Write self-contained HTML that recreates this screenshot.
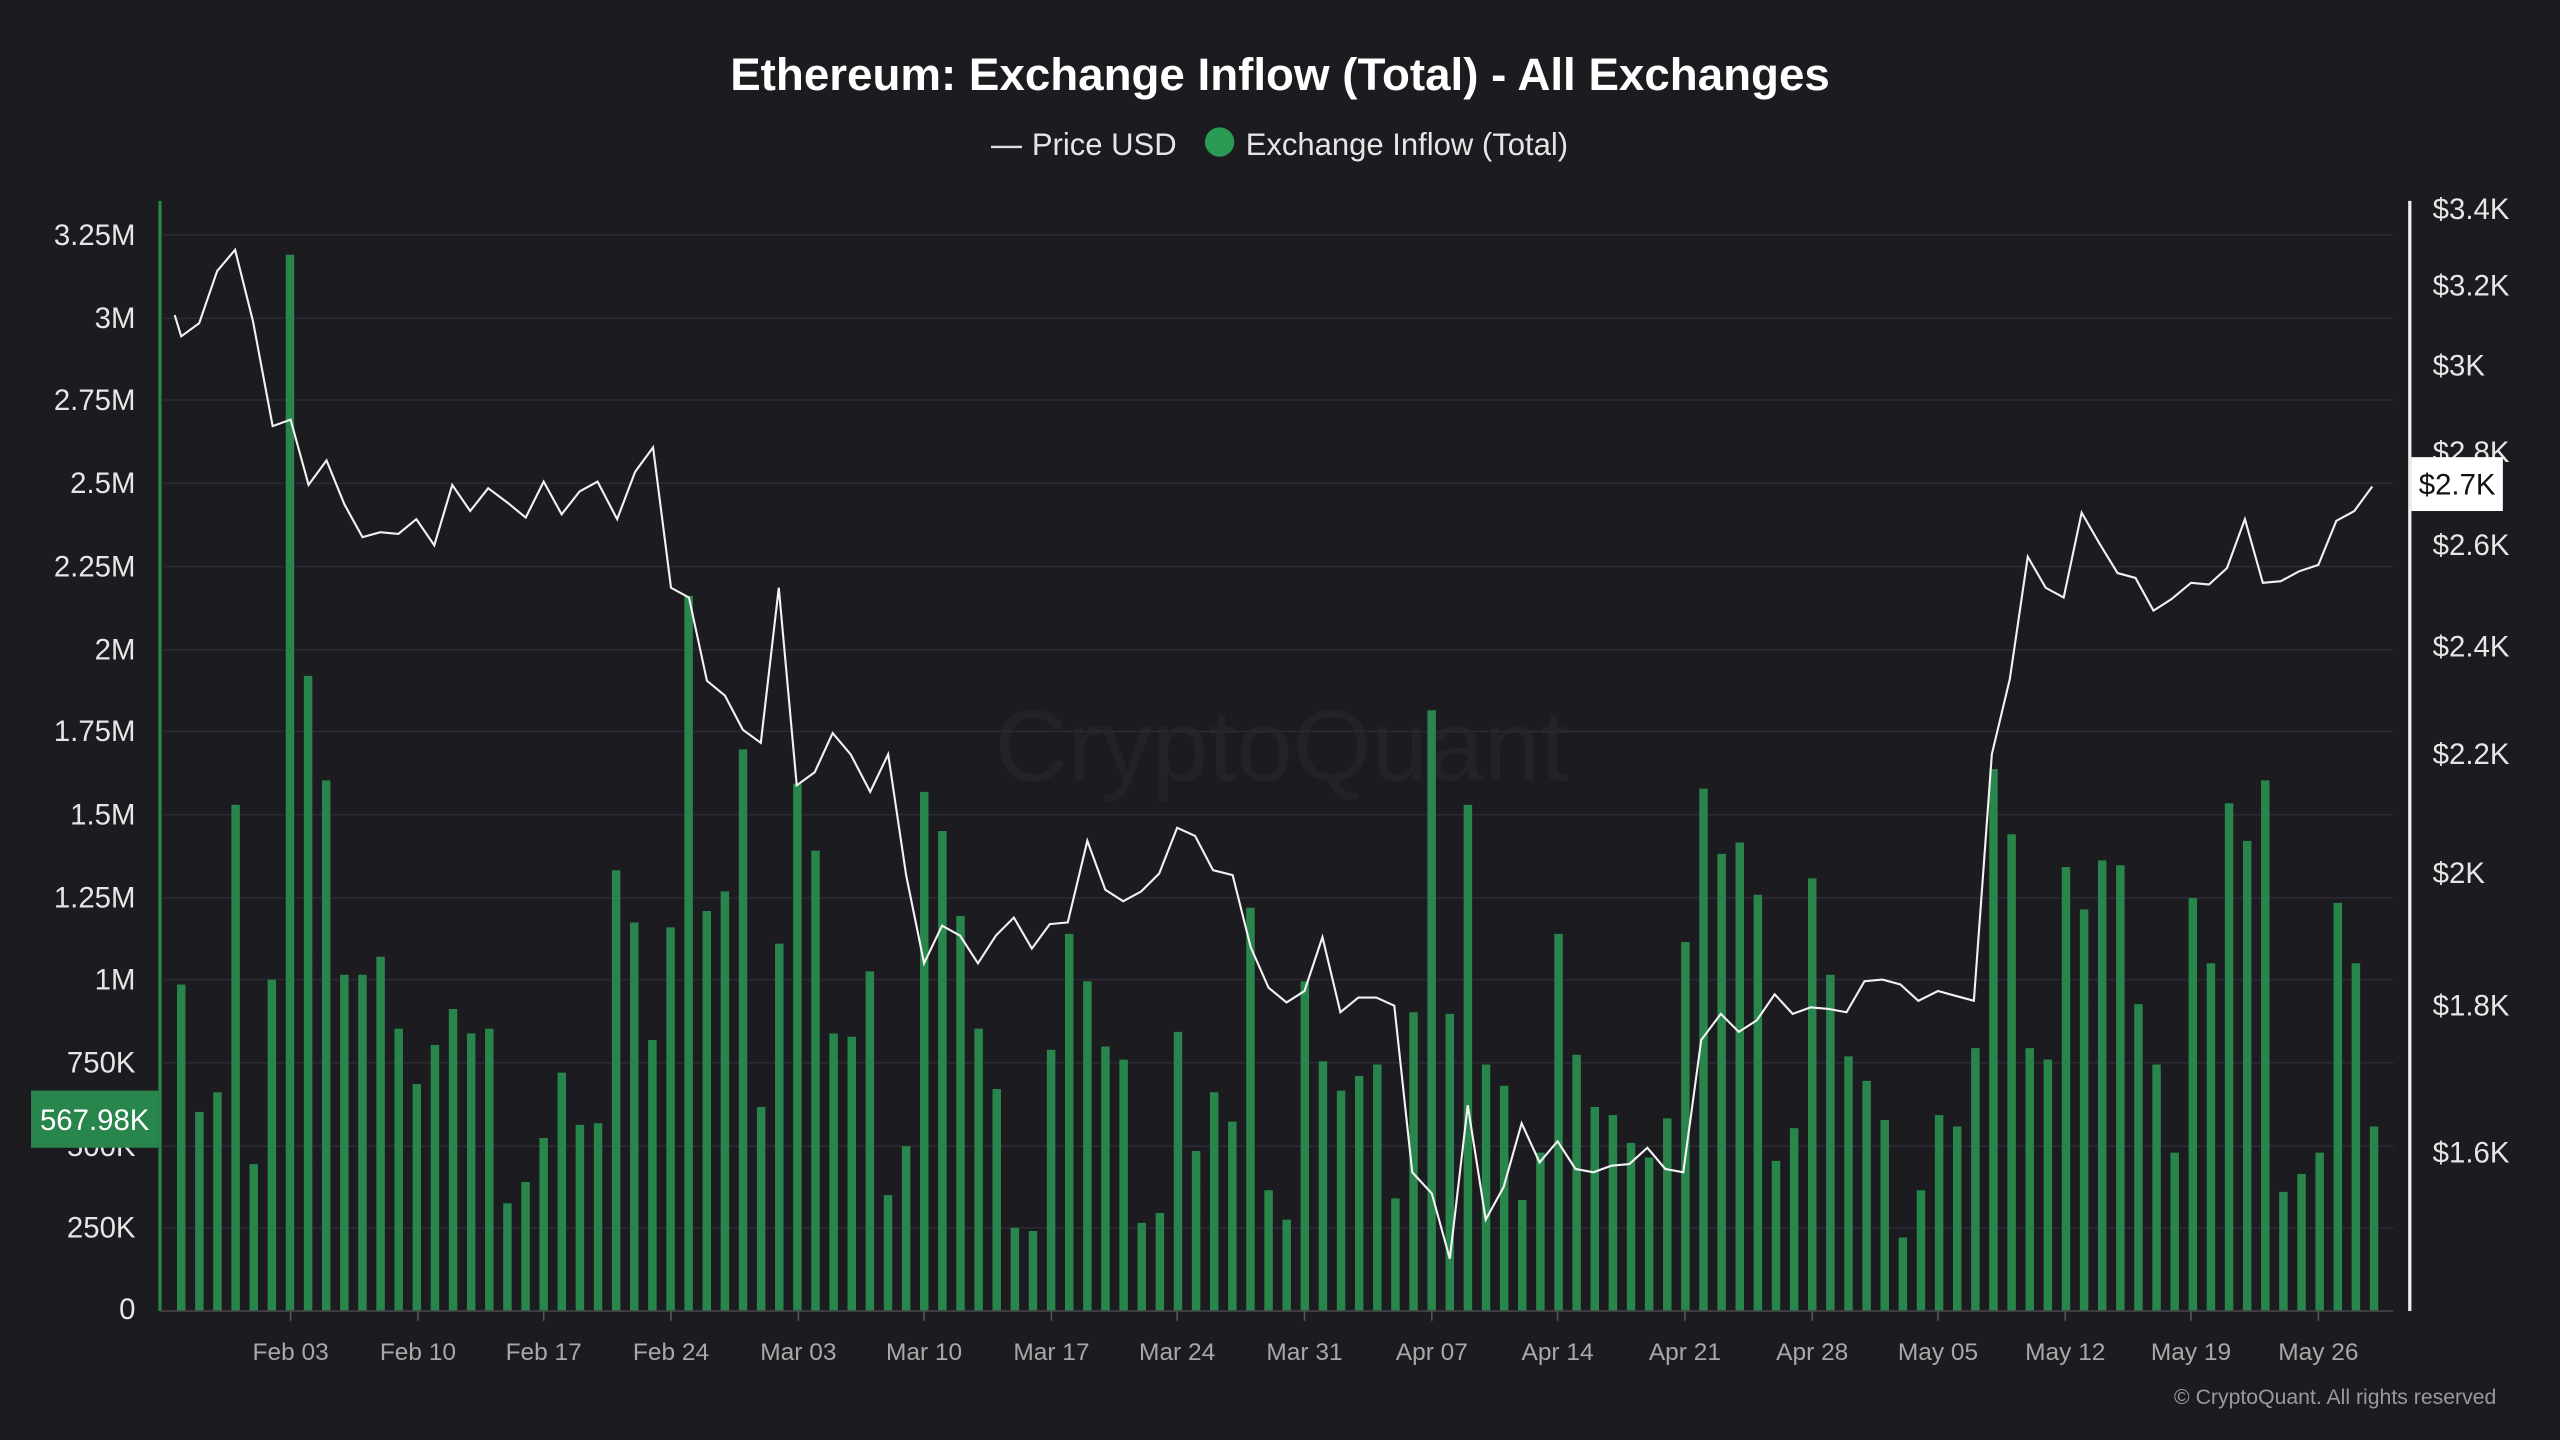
<!DOCTYPE html>
<html><head><meta charset="utf-8"><style>
html,body{margin:0;padding:0;background:#1b1b20;}
svg{display:block;}
text{font-family:"Liberation Sans",sans-serif;}
</style></head><body>
<svg width="2560" height="1440" viewBox="0 0 1568 882" xmlns="http://www.w3.org/2000/svg">
<rect width="1568" height="882" fill="#1b1b20"/>
<text x="784" y="55" text-anchor="middle" fill="#fff" font-size="28" font-weight="bold">Ethereum: Exchange Inflow (Total) - All Exchanges</text>
<line x1="607" y1="90" x2="626" y2="90" stroke="#ddd" stroke-width="1.5"/>
<text x="632" y="95" fill="#e6e6e6" font-size="19">Price USD</text>
<circle cx="747" cy="87" r="9" fill="#2a9a55"/>
<text x="763" y="95" fill="#e6e6e6" font-size="19">Exchange Inflow (Total)</text>
<text x="785" y="478" text-anchor="middle" fill="#222228" font-size="62">CryptoQuant</text>
<g stroke="#2a2a30" stroke-width="1">
<line x1="100" y1="144" x2="1466" y2="144"/><line x1="100" y1="195" x2="1466" y2="195"/><line x1="100" y1="245" x2="1466" y2="245"/><line x1="100" y1="296" x2="1466" y2="296"/><line x1="100" y1="347" x2="1466" y2="347"/><line x1="100" y1="398" x2="1466" y2="398"/><line x1="100" y1="448" x2="1466" y2="448"/><line x1="100" y1="499" x2="1466" y2="499"/><line x1="100" y1="550" x2="1466" y2="550"/><line x1="100" y1="600" x2="1466" y2="600"/><line x1="100" y1="651" x2="1466" y2="651"/><line x1="100" y1="702" x2="1466" y2="702"/><line x1="100" y1="752" x2="1466" y2="752"/>
</g>
<g fill="#e6e6e6" font-size="18" text-anchor="end">
<text x="83" y="150">3.25M</text><text x="83" y="201">3M</text><text x="83" y="251">2.75M</text><text x="83" y="302">2.5M</text><text x="83" y="353">2.25M</text><text x="83" y="404">2M</text><text x="83" y="454">1.75M</text><text x="83" y="505">1.5M</text><text x="83" y="556">1.25M</text><text x="83" y="606">1M</text><text x="83" y="657">750K</text><text x="83" y="708">500K</text><text x="83" y="758">250K</text><text x="83" y="808">0</text>
</g>
<g fill="#e6e6e6" font-size="18">
<text x="1490" y="134">$3.4K</text><text x="1490" y="181">$3.2K</text><text x="1490" y="230">$3K</text><text x="1490" y="283">$2.8K</text><text x="1490" y="340">$2.6K</text><text x="1490" y="402">$2.4K</text><text x="1490" y="468">$2.2K</text><text x="1490" y="541">$2K</text><text x="1490" y="622">$1.8K</text><text x="1490" y="712">$1.6K</text>
</g>
<path fill="#28854c" d="M108.4 803V603h5.2V803zM119.5 803V681h5.2V803zM130.6 803V669h5.2V803zM141.7 803V493h5.2V803zM152.8 803V713h5.2V803zM163.9 803V600h5.2V803zM175 803V156h5.2V803zM186.1 803V414h5.2V803zM197.2 803V478h5.2V803zM208.3 803V597h5.2V803zM219.4 803V597h5.2V803zM230.5 803V586h5.2V803zM241.6 803V630h5.2V803zM252.7 803V664h5.2V803zM263.8 803V640h5.2V803zM274.9 803V618h5.2V803zM286 803V633h5.2V803zM297.1 803V630h5.2V803zM308.2 803V737h5.2V803zM319.3 803V724h5.2V803zM330.4 803V697h5.2V803zM341.5 803V657h5.2V803zM352.6 803V689h5.2V803zM363.7 803V688h5.2V803zM374.8 803V533h5.2V803zM385.9 803V565h5.2V803zM397 803V637h5.2V803zM408.1 803V568h5.2V803zM419.2 803V365h5.2V803zM430.3 803V558h5.2V803zM441.4 803V546h5.2V803zM452.5 803V459h5.2V803zM463.6 803V678h5.2V803zM474.7 803V578h5.2V803zM485.8 803V480h5.2V803zM496.9 803V521h5.2V803zM508 803V633h5.2V803zM519.1 803V635h5.2V803zM530.2 803V595h5.2V803zM541.3 803V732h5.2V803zM552.4 803V702h5.2V803zM563.5 803V485h5.2V803zM574.6 803V509h5.2V803zM585.7 803V561h5.2V803zM596.8 803V630h5.2V803zM607.9 803V667h5.2V803zM619 803V752h5.2V803zM630.1 803V754h5.2V803zM641.2 803V643h5.2V803zM652.3 803V572h5.2V803zM663.4 803V601h5.2V803zM674.5 803V641h5.2V803zM685.6 803V649h5.2V803zM696.7 803V749h5.2V803zM707.8 803V743h5.2V803zM718.9 803V632h5.2V803zM730 803V705h5.2V803zM741.1 803V669h5.2V803zM752.2 803V687h5.2V803zM763.3 803V556h5.2V803zM774.4 803V729h5.2V803zM785.5 803V747h5.2V803zM796.6 803V601h5.2V803zM807.7 803V650h5.2V803zM818.8 803V668h5.2V803zM829.9 803V659h5.2V803zM841 803V652h5.2V803zM852.1 803V734h5.2V803zM863.2 803V620h5.2V803zM874.3 803V435h5.2V803zM885.4 803V621h5.2V803zM896.5 803V493h5.2V803zM907.6 803V652h5.2V803zM918.7 803V665h5.2V803zM929.8 803V735h5.2V803zM940.9 803V706h5.2V803zM952 803V572h5.2V803zM963.1 803V646h5.2V803zM974.2 803V678h5.2V803zM985.3 803V683h5.2V803zM996.4 803V700h5.2V803zM1007.5 803V709h5.2V803zM1018.6 803V685h5.2V803zM1029.7 803V577h5.2V803zM1040.8 803V483h5.2V803zM1051.9 803V523h5.2V803zM1063 803V516h5.2V803zM1074.1 803V548h5.2V803zM1085.2 803V711h5.2V803zM1096.3 803V691h5.2V803zM1107.4 803V538h5.2V803zM1118.5 803V597h5.2V803zM1129.6 803V647h5.2V803zM1140.7 803V662h5.2V803zM1151.8 803V686h5.2V803zM1162.9 803V758h5.2V803zM1174 803V729h5.2V803zM1185.1 803V683h5.2V803zM1196.2 803V690h5.2V803zM1207.3 803V642h5.2V803zM1218.4 803V471h5.2V803zM1229.5 803V511h5.2V803zM1240.6 803V642h5.2V803zM1251.7 803V649h5.2V803zM1262.8 803V531h5.2V803zM1273.9 803V557h5.2V803zM1285 803V527h5.2V803zM1296.1 803V530h5.2V803zM1307.2 803V615h5.2V803zM1318.3 803V652h5.2V803zM1329.4 803V706h5.2V803zM1340.5 803V550h5.2V803zM1351.6 803V590h5.2V803zM1362.7 803V492h5.2V803zM1373.8 803V515h5.2V803zM1384.9 803V478h5.2V803zM1396 803V730h5.2V803zM1407.1 803V719h5.2V803zM1418.2 803V706h5.2V803zM1429.3 803V553h5.2V803zM1440.4 803V590h5.2V803zM1451.5 803V690h5.2V803z"/>
<line x1="98" y1="123" x2="98" y2="803" stroke="#28854c" stroke-width="2"/>
<line x1="1476" y1="123" x2="1476" y2="803" stroke="#eee" stroke-width="2"/>
<line x1="98" y1="803" x2="1466" y2="803" stroke="#444" stroke-width="1"/>
<polyline fill="none" stroke="#f2f2f2" stroke-width="1.3" points="107,193 111,206 122,198 133,166 144,153 155,197 167,261 178,257 189,297 200,282 211,309 222,329 233,326 244,327 255,318 266,334 277,297 288,313 299,299 311,308 322,317 333,295 344,315 355,301 366,295 378,318 389,289 400,274 411,360 422,366 433,417 444,426 455,447 466,455 477,360 488,481 499,473 510,449 521,462 533,485 544,462 555,536 566,590 577,567 588,573 599,590 610,573 621,562 632,581 643,566 654,565 666,515 677,545 688,552 699,546 710,535 721,507 732,512 743,533 755,536 766,580 777,605 788,614 799,607 810,574 821,620 832,611 843,611 854,616 865,718 877,731 888,771 899,677 910,747 921,727 932,688 943,712 954,699 965,716 976,718 987,714 998,713 1009,703 1020,716 1031,718 1042,637 1054,621 1065,632 1076,625 1087,609 1098,621 1109,617 1120,618 1131,620 1142,601 1153,600 1164,603 1175,613 1187,607 1198,610 1209,613 1220,462 1231,416 1242,341 1253,360 1264,366 1275,314 1286,333 1297,351 1308,354 1319,374 1330,367 1342,357 1353,358 1364,348 1375,318 1386,357 1397,356 1408,350 1420,346 1431,319 1442,313 1453,298"/>
<g stroke="#555" stroke-width="1">
<line x1="178" y1="803" x2="178" y2="809"/><line x1="256" y1="803" x2="256" y2="809"/><line x1="333" y1="803" x2="333" y2="809"/><line x1="411" y1="803" x2="411" y2="809"/><line x1="489" y1="803" x2="489" y2="809"/><line x1="566" y1="803" x2="566" y2="809"/><line x1="644" y1="803" x2="644" y2="809"/><line x1="721" y1="803" x2="721" y2="809"/><line x1="799" y1="803" x2="799" y2="809"/><line x1="877" y1="803" x2="877" y2="809"/><line x1="954" y1="803" x2="954" y2="809"/><line x1="1032" y1="803" x2="1032" y2="809"/><line x1="1110" y1="803" x2="1110" y2="809"/><line x1="1187" y1="803" x2="1187" y2="809"/><line x1="1265" y1="803" x2="1265" y2="809"/><line x1="1342" y1="803" x2="1342" y2="809"/><line x1="1420" y1="803" x2="1420" y2="809"/>
</g>
<g fill="#a8a8a8" font-size="15" text-anchor="middle">
<text x="178" y="833">Feb 03</text><text x="256" y="833">Feb 10</text><text x="333" y="833">Feb 17</text><text x="411" y="833">Feb 24</text><text x="489" y="833">Mar 03</text><text x="566" y="833">Mar 10</text><text x="644" y="833">Mar 17</text><text x="721" y="833">Mar 24</text><text x="799" y="833">Mar 31</text><text x="877" y="833">Apr 07</text><text x="954" y="833">Apr 14</text><text x="1032" y="833">Apr 21</text><text x="1110" y="833">Apr 28</text><text x="1187" y="833">May 05</text><text x="1265" y="833">May 12</text><text x="1342" y="833">May 19</text><text x="1420" y="833">May 26</text>
</g>
<text x="1529" y="860" text-anchor="end" fill="#9a9a9a" font-size="13">© CryptoQuant. All rights reserved</text>
<rect x="19" y="668" width="78" height="35" fill="#28854c"/>
<text x="58" y="692" text-anchor="middle" fill="#fff" font-size="18">567.98K</text>
<rect x="1477" y="280" width="56" height="33" fill="#fff"/>
<text x="1505" y="303" text-anchor="middle" fill="#111" font-size="18">$2.7K</text>
</svg>
</body></html>
